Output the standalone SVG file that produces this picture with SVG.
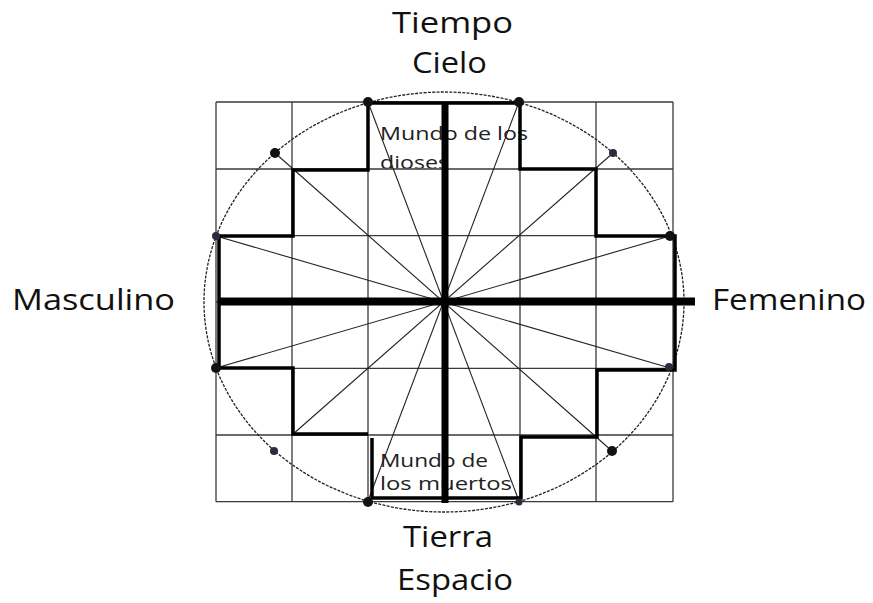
<svg xmlns="http://www.w3.org/2000/svg" width="873" height="603" viewBox="0 0 873 603">
<style>
.big{font-family:"Open Sans","Noto Sans",sans-serif;font-size:30px;fill:#111}
.small{font-family:"Open Sans","Noto Sans",sans-serif;font-size:18.5px;fill:#222}
.grid{stroke:#3a3a3a;stroke-width:1.3;fill:none}
.step{stroke:#000;stroke-width:3.5;fill:none}
.spoke{stroke:#222;stroke-width:1.1;fill:none}
.circ{stroke:#222;stroke-width:1.3;fill:none;stroke-dasharray:3 1.3}
.dot{fill:#111}
.sdot{fill:#2a2d3a}
</style>
<defs>
<clipPath id="topbox"><rect x="368" y="102" width="175" height="66.5"/></clipPath>
</defs>
<rect width="873" height="603" fill="#fff"/>
<g id="labels">
<text class="big" x="392" y="33" textLength="121" lengthAdjust="spacingAndGlyphs">Tiempo</text>
<text class="big" x="412" y="73" textLength="75" lengthAdjust="spacingAndGlyphs">Cielo</text>
<text class="big" x="403" y="547" textLength="90" lengthAdjust="spacingAndGlyphs">Tierra</text>
<text class="big" x="397" y="590" textLength="116" lengthAdjust="spacingAndGlyphs">Espacio</text>
<text class="big" x="12" y="310" textLength="163" lengthAdjust="spacingAndGlyphs">Masculino</text>
<text class="big" x="712" y="310" textLength="154" lengthAdjust="spacingAndGlyphs">Femenino</text>
</g>
<g id="mundo-dioses" clip-path="url(#topbox)">
<text class="small" x="380" y="140" textLength="148" lengthAdjust="spacingAndGlyphs">Mundo de los</text>
<text class="small" x="380" y="169" textLength="69" lengthAdjust="spacingAndGlyphs">dioses</text>
</g>
<g id="mundo-muertos">
<text class="small" x="380" y="467" textLength="108" lengthAdjust="spacingAndGlyphs">Mundo de</text>
<text class="small" x="380" y="490" textLength="132" lengthAdjust="spacingAndGlyphs">los muertos</text>
</g>
<g id="grid">
<path class="grid" d="M216,102 H673 M216,169 H673 M216,235.7 H673 M216,302 H673 M216,368.3 H673 M216,435 H673 M216,501.7 H673 M216,102 V501.7 M292,102 V501.7 M368,102 V501.7 M444,102 V501.7 M520,102 V501.7 M596,102 V501.7 M673,102 V501.7"/>
</g>
<g id="connectors">
<ellipse class="circ" cx="444" cy="302" rx="240" ry="210"/>
<line class="spoke" x1="368" y1="102" x2="519" y2="501"/>
<line class="spoke" x1="519" y1="102" x2="368" y2="501"/>
<line class="spoke" x1="275" y1="153" x2="612" y2="451"/>
<line class="spoke" x1="613" y1="153" x2="292" y2="435"/>
<line class="spoke" x1="216" y1="236" x2="670" y2="368"/>
<line class="spoke" x1="216" y1="368" x2="670" y2="236"/>
<path class="step" d="M368,103 H520 V169 H596 V236 H675 V370 H597 V437 H521 V498 H372 V438"/>
<path class="step" d="M368,434 H293 V368 H219 V236 H293 V170 H368 V103"/>
<line x1="445" y1="102" x2="445" y2="503" stroke="#000" stroke-width="7"/>
<line x1="219" y1="301.5" x2="695" y2="301.5" stroke="#000" stroke-width="8"/>
</g>
<g id="points">
<circle class="dot" cx="368" cy="102" r="5"/>
<circle class="dot" cx="519" cy="102" r="5"/>
<circle class="dot" cx="275" cy="153" r="5"/>
<circle class="sdot" cx="613" cy="153" r="4"/>
<circle class="sdot" cx="216" cy="236" r="4"/>
<circle class="dot" cx="670" cy="236" r="5"/>
<circle class="dot" cx="216" cy="368" r="5"/>
<circle class="sdot" cx="669" cy="367" r="4"/>
<circle class="sdot" cx="274" cy="451" r="4"/>
<circle class="dot" cx="612" cy="451" r="5"/>
<circle class="dot" cx="368" cy="502" r="5"/>
<circle class="sdot" cx="519" cy="502" r="3.5"/>
</g>
</svg>
